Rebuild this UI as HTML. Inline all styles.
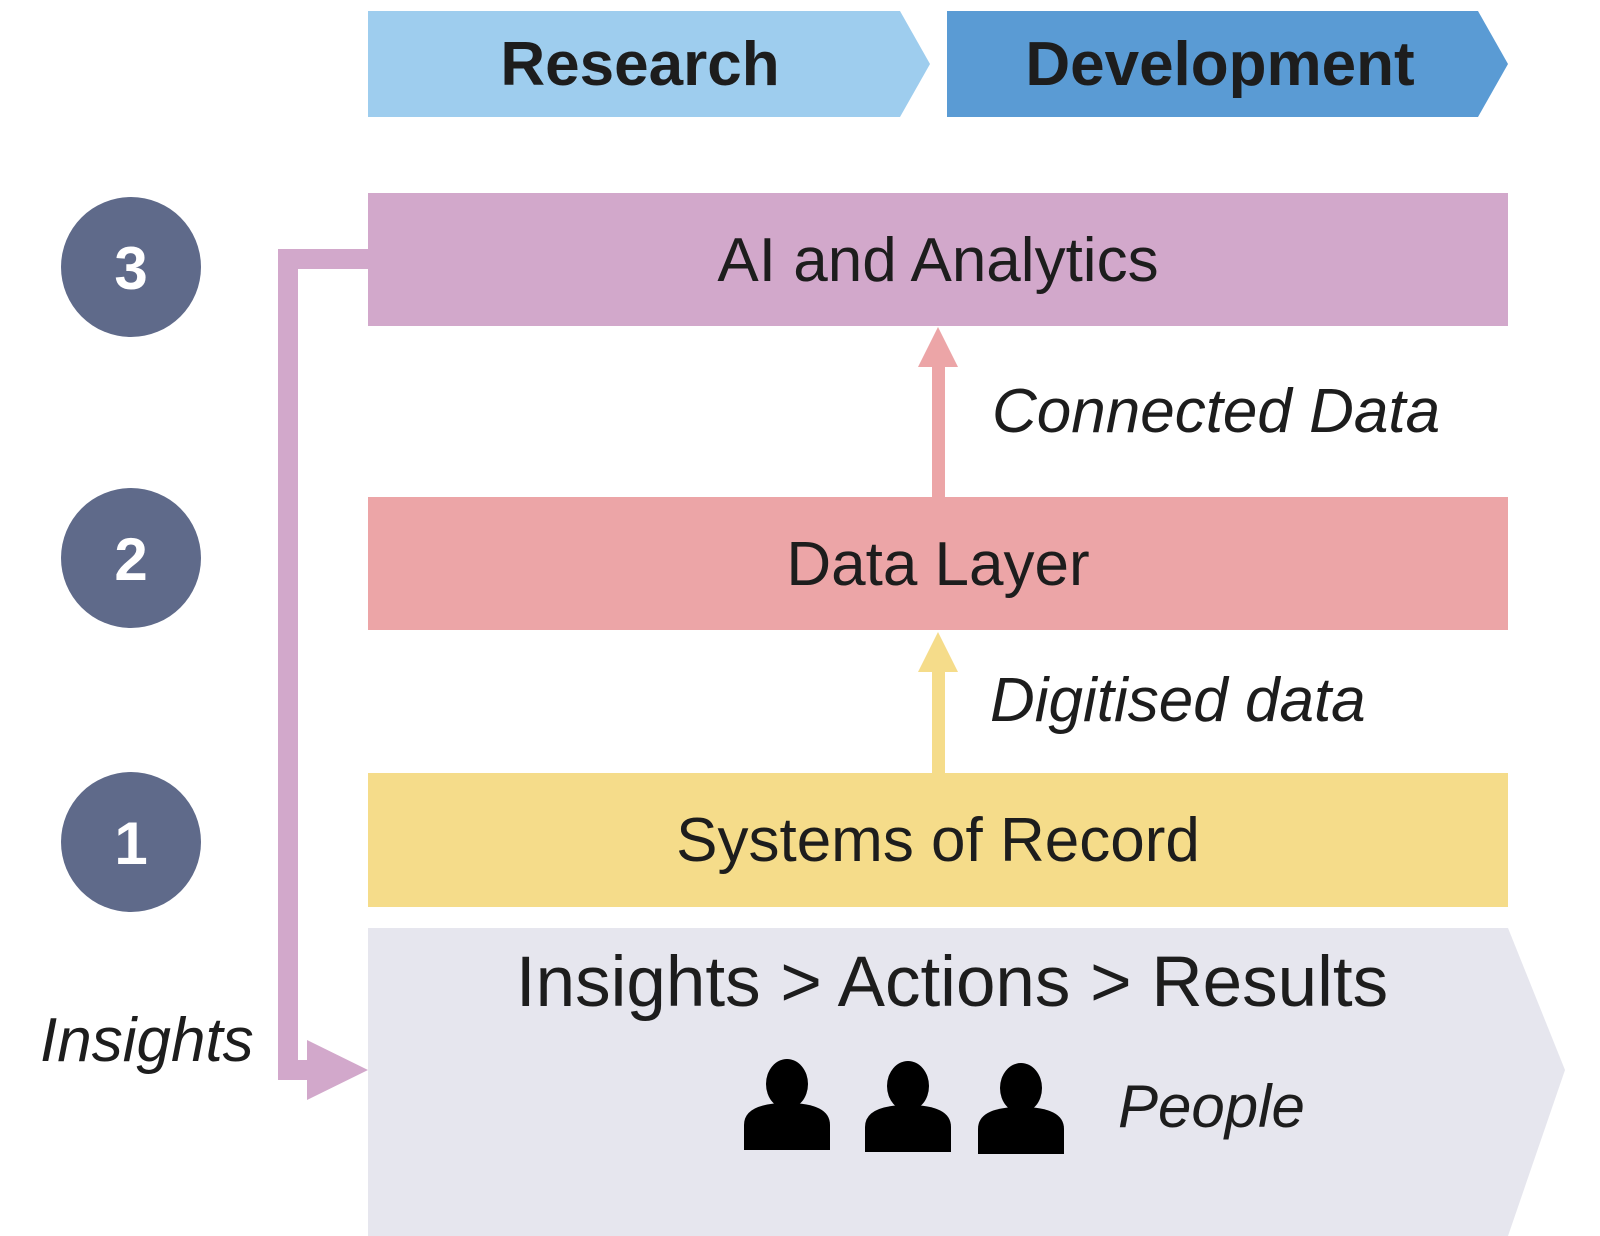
<!DOCTYPE html>
<html><head><style>
body{margin:0;width:1600px;height:1236px;background:#fff;overflow:hidden;font-family:"Liberation Sans",sans-serif;}
svg{position:absolute;left:0;top:0}
</style></head><body>
<svg width="1600" height="1236" viewBox="0 0 1600 1236" font-family="Liberation Sans, sans-serif">
<polygon points="368,11 900,11 930,64 900,117 368,117" fill="#9ecdee"/>
<polygon points="947,11 1478,11 1508,64 1478,117 947,117" fill="#5a9bd4"/>
<text x="640" y="85" font-size="62" font-weight="bold" text-anchor="middle" fill="#1d1d1d">Research</text>
<text x="1220" y="85" font-size="62" font-weight="bold" text-anchor="middle" fill="#1d1d1d">Development</text>

<circle cx="131" cy="267" r="70" fill="#5f6a8a"/>
<circle cx="131" cy="558" r="70" fill="#5f6a8a"/>
<circle cx="131" cy="842" r="70" fill="#5f6a8a"/>
<text x="131" y="289" font-size="60" font-weight="bold" fill="#fff" text-anchor="middle">3</text>
<text x="131" y="580" font-size="60" font-weight="bold" fill="#fff" text-anchor="middle">2</text>
<text x="131" y="864" font-size="60" font-weight="bold" fill="#fff" text-anchor="middle">1</text>

<rect x="368" y="193" width="1140" height="133" fill="#d2a8cb"/>
<rect x="368" y="497" width="1140" height="133" fill="#eca5a7"/>
<rect x="368" y="773" width="1140" height="134" fill="#f5dc8a"/>
<polygon points="368,928 1508,928 1565,1070 1508,1236 368,1236" fill="#e6e6ee"/>

<polyline points="368,259 288,259 288,1070 310,1070" fill="none" stroke="#d2a8cb" stroke-width="20"/>
<polygon points="307,1040 368,1070 307,1100" fill="#d2a8cb"/>

<rect x="932" y="365" width="13" height="132" fill="#eca5a7"/>
<polygon points="918,367 938,327 958,367" fill="#eca5a7"/>
<rect x="932" y="670" width="13" height="103" fill="#f5dc8a"/>
<polygon points="918,672 938,632 958,672" fill="#f5dc8a"/>

<g fill="#1d1d1d" text-anchor="middle" font-size="62">
<text x="938" y="281">AI and Analytics</text>
<text x="938" y="585">Data Layer</text>
<text x="938" y="861">Systems of Record</text>
<text x="952" y="1006" font-size="71">Insights &gt; Actions &gt; Results</text>
</g>
<g fill="#1d1d1d" font-style="italic" font-size="62">
<text x="992" y="432">Connected Data</text>
<text x="990" y="721">Digitised data</text>
<text x="40" y="1061">Insights</text>
<text x="1118" y="1127" font-size="60">People</text>
</g>
<g fill="#000">
<ellipse cx="787" cy="1084" rx="21" ry="25"/>
<path d="M744,1150 V1125 Q744,1103 787,1103 Q830,1103 830,1125 V1150 Z"/>
<ellipse cx="908" cy="1086" rx="21" ry="25"/>
<path d="M865,1152 V1127 Q865,1105 908,1105 Q951,1105 951,1127 V1152 Z"/>
<ellipse cx="1021" cy="1088" rx="21" ry="25"/>
<path d="M978,1154 V1129 Q978,1107 1021,1107 Q1064,1107 1064,1129 V1154 Z"/>
</g>
</svg>
</body></html>
